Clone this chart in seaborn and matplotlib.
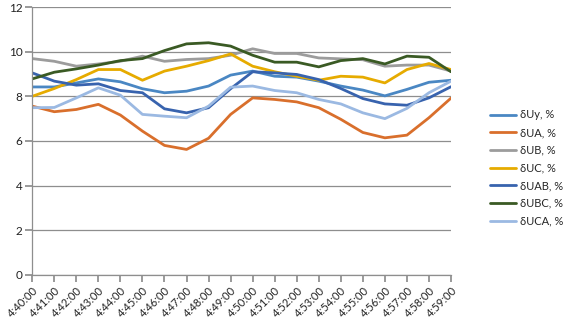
import matplotlib
matplotlib.use("Agg")
import matplotlib.pyplot as plt
import seaborn as sns
import pandas as pd

times = ["4:40:00", "4:41:00", "4:42:00", "4:43:00", "4:44:00", "4:45:00", "4:46:00",
         "4:47:00", "4:48:00", "4:49:00", "4:50:00", "4:51:00", "4:52:00", "4:53:00",
         "4:54:00", "4:55:00", "4:56:00", "4:57:00", "4:58:00", "4:59:00"]

dUy  = [8.42, 8.42, 8.60, 8.78, 8.65, 8.34, 8.16, 8.23, 8.46, 8.95, 9.13, 8.90, 8.86, 8.68, 8.46, 8.28, 8.02, 8.31, 8.63, 8.72]
dUA  = [7.56, 7.31, 7.41, 7.64, 7.16, 6.44, 5.80, 5.62, 6.12, 7.19, 7.93, 7.86, 7.75, 7.49, 6.97, 6.38, 6.14, 6.26, 7.04, 7.92]
dUB  = [9.69, 9.57, 9.35, 9.45, 9.57, 9.80, 9.57, 9.65, 9.69, 9.84, 10.13, 9.92, 9.92, 9.72, 9.68, 9.64, 9.35, 9.40, 9.40, 9.13]
dUC  = [8.00, 8.35, 8.75, 9.20, 9.20, 8.72, 9.13, 9.35, 9.60, 9.90, 9.35, 9.10, 8.90, 8.72, 8.90, 8.86, 8.60, 9.20, 9.47, 9.20]
dUAB = [9.05, 8.68, 8.50, 8.56, 8.26, 8.16, 7.44, 7.26, 7.49, 8.34, 9.10, 9.05, 8.98, 8.75, 8.35, 7.90, 7.66, 7.60, 7.93, 8.43]
dUBC = [8.78, 9.08, 9.23, 9.40, 9.60, 9.69, 10.05, 10.35, 10.40, 10.25, 9.84, 9.53, 9.53, 9.32, 9.60, 9.69, 9.45, 9.80, 9.75, 9.10]
dUCA = [7.49, 7.50, 7.93, 8.38, 8.05, 7.19, 7.11, 7.04, 7.56, 8.41, 8.46, 8.26, 8.16, 7.86, 7.66, 7.26, 7.00, 7.46, 8.16, 8.68]

names = ["δUy, %", "δUA, %", "δUB, %", "δUC, %", "δUAB, %", "δUBC, %", "δUCA, %"]
series = [dUy, dUA, dUB, dUC, dUAB, dUBC, dUCA]
colors = ["#4a87c3", "#d96f2c", "#9c9c9c", "#e6ab00", "#3863ae", "#3a5a24", "#9bb9e2"]

rows = []
for name, vals in zip(names, series):
    for i, v in enumerate(vals):
        rows.append({"idx": i, "value": v, "series": name})
df = pd.DataFrame(rows)

sns.set_theme(style="white")
plt.rcParams["font.family"] = ["Lato", "DejaVu Sans"]

fig = plt.figure(figsize=(5.76, 3.36), dpi=100)
ax = fig.add_axes([0.056, 0.182, 0.727, 0.797])

sns.lineplot(data=df, x="idx", y="value", hue="series", hue_order=names,
             palette=colors, linewidth=2.0, ax=ax, legend=True)

ax.set_xlim(0, len(times) - 1)
ax.set_ylim(0, 12)
ax.set_yticks(range(0, 13, 2))
ax.set_xticks(range(len(times)))
ax.set_xticklabels(times, rotation=45, ha="right", rotation_mode="anchor")
ax.set_xlabel("")
ax.set_ylabel("")
ax.yaxis.grid(True, color="#8e8e8e", linewidth=0.9)
ax.xaxis.grid(False)
for s in ["top", "right"]:
    ax.spines[s].set_visible(False)
for s in ["left", "bottom"]:
    ax.spines[s].set_color("#8e8e8e")
    ax.spines[s].set_linewidth(0.9)
ax.tick_params(axis="x", which="both", bottom=True, length=5, color="#8e8e8e",
               labelsize=8, pad=2, labelcolor="#222222")
ax.tick_params(axis="y", which="both", left=True, length=5, color="#8e8e8e",
               labelsize=8.5, pad=2, labelcolor="#222222")
ax.set_axisbelow(True)

handles, labels = ax.get_legend_handles_labels()
ax.get_legend().remove()
fig.legend(handles, labels, loc="center left", bbox_to_anchor=(0.851, 0.5),
           frameon=False, fontsize=8, handlelength=2.3, handletextpad=0.4,
           labelspacing=0.6, borderpad=0, borderaxespad=0)

fig.savefig("out.png", dpi=100)
